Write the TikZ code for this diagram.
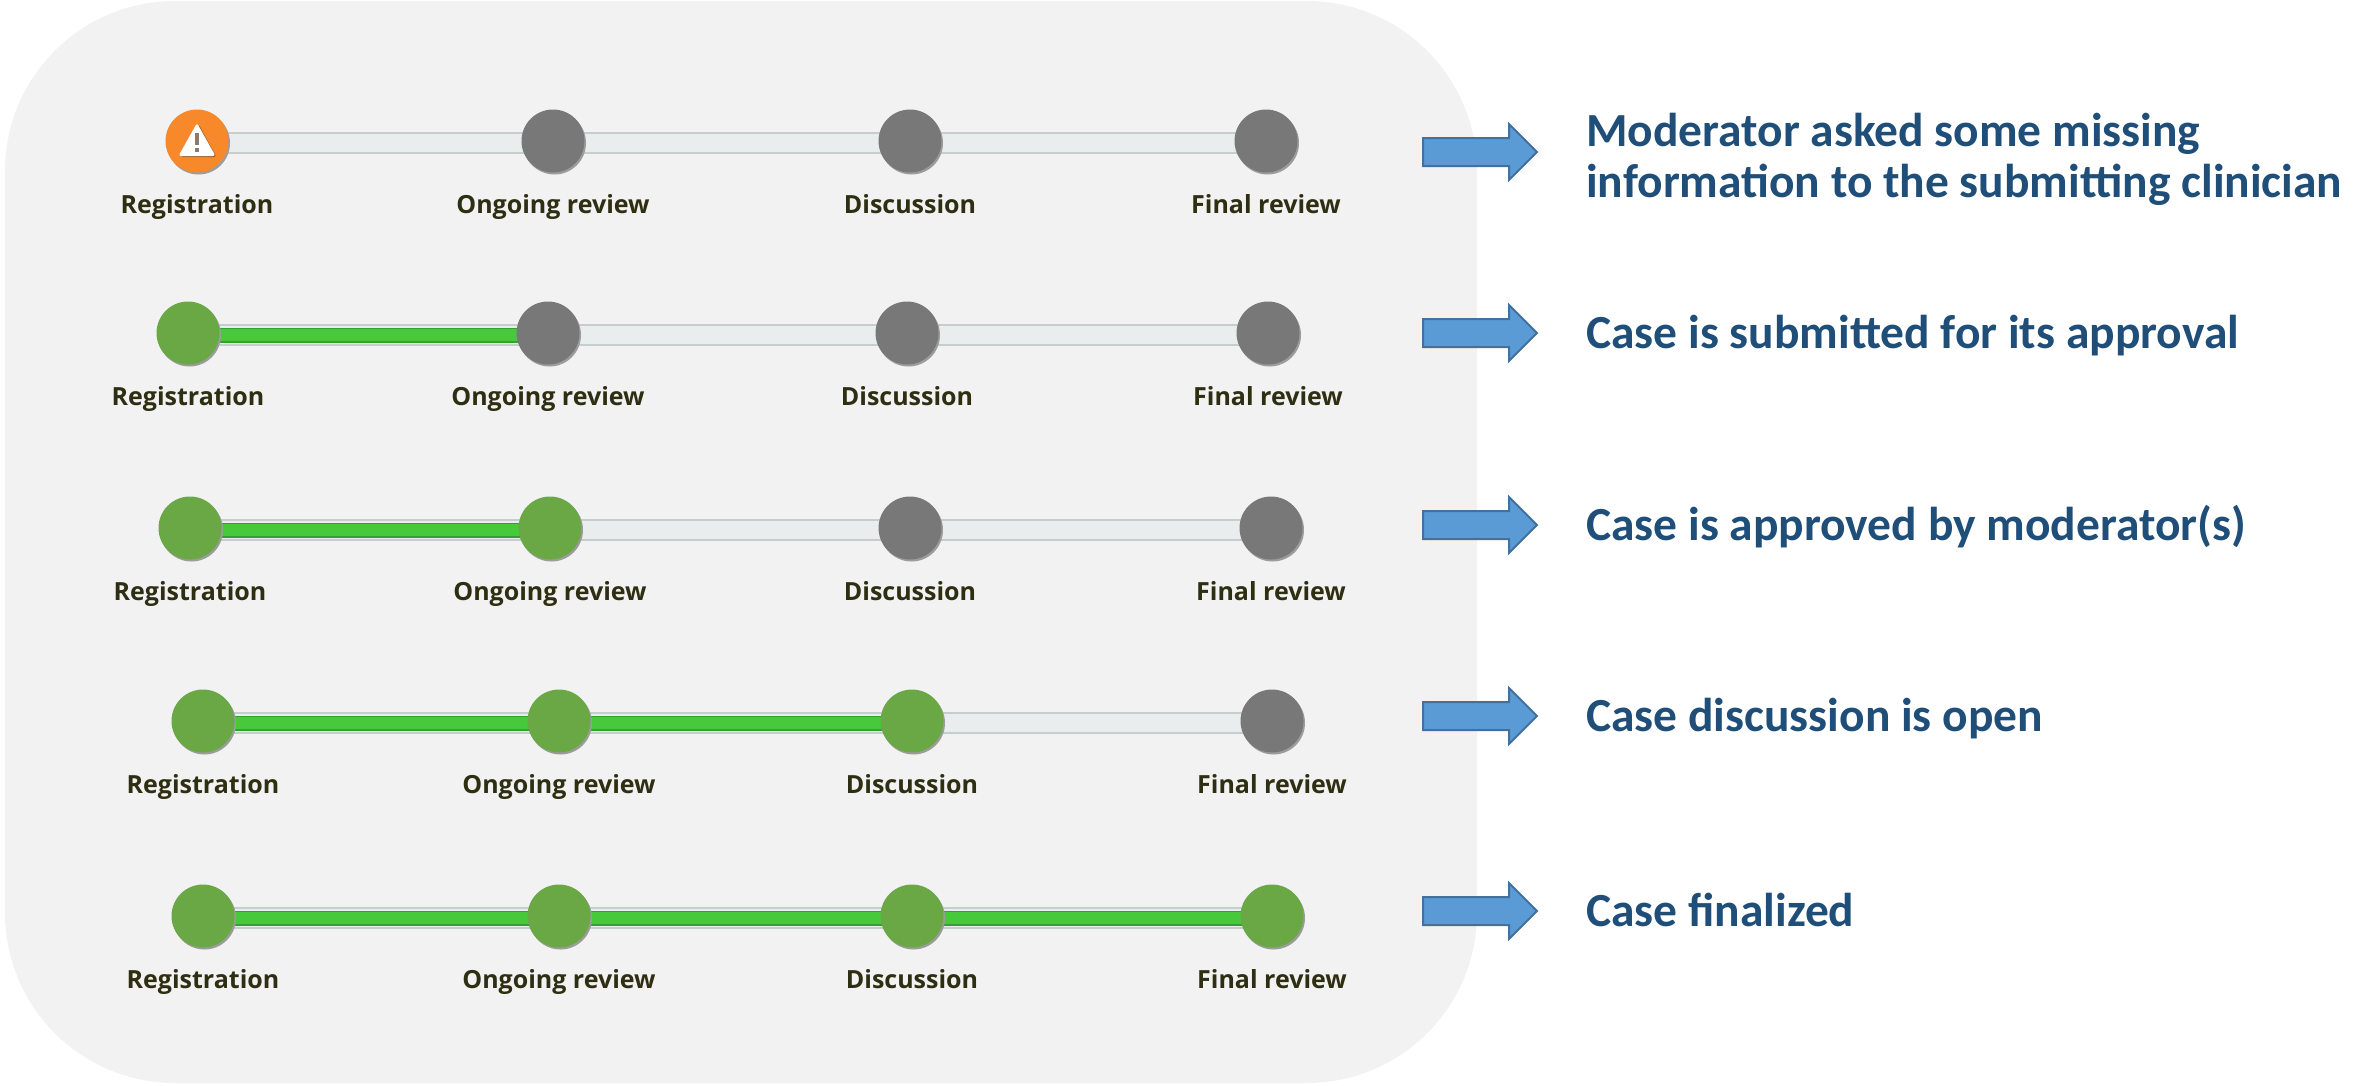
\documentclass[tikz,border=0pt]{standalone}
\usepackage{fontspec}
\setmainfont{Carlito}
\newfontfamily\lblfont{Open Sans}
\usetikzlibrary{shapes.arrows,shadows}
\pgfdeclarelayer{back}
\pgfdeclarelayer{mid}
\pgfsetlayers{back,mid,main}
\definecolor{panel}{HTML}{F2F2F2}
\definecolor{stgreen}{HTML}{6AA846}
\definecolor{stgray}{HTML}{787878}
\definecolor{storange}{HTML}{F7892B}
\definecolor{stshadow}{HTML}{9C9C9C}
\definecolor{trkedge}{HTML}{C6CDCD}
\definecolor{trkfill}{HTML}{EAEDED}
\definecolor{grnedge}{HTML}{33A033}
\definecolor{grnfill}{HTML}{48C83B}
\definecolor{lbltext}{HTML}{2E2E12}
\definecolor{arrowfill}{HTML}{5B9BD5}
\definecolor{arrowedge}{HTML}{41719C}
\definecolor{desctext}{HTML}{1F4E79}
\definecolor{exclam}{HTML}{8C7B6B}
\tikzset{
  stage/.style={circle, minimum size=63pt, inner sep=0pt, draw=none,
    drop shadow={fill=stshadow, opacity=1, shadow xshift=1.5pt, shadow yshift=-2pt}},
  done/.style={stage, fill=stgreen},
  todo/.style={stage, fill=stgray},
  warn/.style={stage, fill=storange},
  lbl/.style={anchor=base, inner sep=0pt, text=lbltext,
    font=\lblfont\bfseries\fontsize{25}{30}\selectfont},
  trackgray/.style={line width=2pt, draw=trkedge, double=trkfill, double distance=18pt},
  trackgreen/.style={line width=1.5pt, draw=grnedge, double=grnfill, double distance=12pt},
  blockarrow/.style={single arrow, draw=arrowedge, line width=2pt, fill=arrowfill,
    minimum height=114pt, inner xsep=0pt, inner ysep=13pt,
    single arrow head extend=14pt, single arrow tip angle=90},
  desc/.style={anchor=base west, inner sep=0pt, text=desctext, align=left,
    font=\bfseries\fontsize{47.5}{51}\selectfont}
}
\begin{document}
\begin{tikzpicture}[x=1pt,y=-1pt]
\useasboundingbox (0,0) rectangle (2354,1085);
\begin{pgfonlayer}{back}
  \fill[panel, rounded corners=170pt] (5,1) rectangle (1477,1083);
\end{pgfonlayer}

% ---------- Row 1 ----------
\node[warn] (r1a) at (197,141) {};
\node[todo] (r1b) at (553,141) {};
\node[todo] (r1c) at (910,141) {};
\node[todo] (r1d) at (1266,141) {};
\fill[black!35!storange, rounded corners=2.5pt] (180.5,157) -- (198.5,124) -- (216.5,157) -- cycle;
\fill[white, rounded corners=2.5pt] (178.5,156) -- (197,123) -- (215.5,156) -- cycle;
\fill[exclam] (195.3,133) rectangle (198.7,144.5);
\fill[exclam] (195.3,147.5) rectangle (198.7,151.5);
\node[lbl] (r1la) at (197,213) {Registration};
\node[lbl] (r1lb) at (553,213) {Ongoing review};
\node[lbl] (r1lc) at (910,213) {Discussion};
\node[lbl] (r1ld) at (1266,213) {Final review};

% ---------- Row 2 ----------
\node[done] (r2a) at (188,333) {};
\node[todo] (r2b) at (548,333) {};
\node[todo] (r2c) at (907,333) {};
\node[todo] (r2d) at (1268,333) {};
\node[lbl] (r2la) at (188,405) {Registration};
\node[lbl] (r2lb) at (548,405) {Ongoing review};
\node[lbl] (r2lc) at (907,405) {Discussion};
\node[lbl] (r2ld) at (1268,405) {Final review};

% ---------- Row 3 ----------
\node[done] (r3a) at (190,528) {};
\node[done] (r3b) at (550,528) {};
\node[todo] (r3c) at (910,528) {};
\node[todo] (r3d) at (1271,528) {};
\node[lbl] (r3la) at (190,600) {Registration};
\node[lbl] (r3lb) at (550,600) {Ongoing review};
\node[lbl] (r3lc) at (910,600) {Discussion};
\node[lbl] (r3ld) at (1271,600) {Final review};

% ---------- Row 4 ----------
\node[done] (r4a) at (203,721) {};
\node[done] (r4b) at (559,721) {};
\node[done] (r4c) at (912,721) {};
\node[todo] (r4d) at (1272,721) {};
\node[lbl] (r4la) at (203,793) {Registration};
\node[lbl] (r4lb) at (559,793) {Ongoing review};
\node[lbl] (r4lc) at (912,793) {Discussion};
\node[lbl] (r4ld) at (1272,793) {Final review};

% ---------- Row 5 ----------
\node[done] (r5a) at (203,916) {};
\node[done] (r5b) at (559,916) {};
\node[done] (r5c) at (912,916) {};
\node[done] (r5d) at (1272,916) {};
\node[lbl] (r5la) at (203,988) {Registration};
\node[lbl] (r5lb) at (559,988) {Ongoing review};
\node[lbl] (r5lc) at (912,988) {Discussion};
\node[lbl] (r5ld) at (1272,988) {Final review};

% ---------- Tracks ----------
\begin{pgfonlayer}{mid}
  \foreach \r in {1,...,5} {
    \draw[trackgray] ([yshift=-2pt]r\r a.center) -- ([yshift=-2pt]r\r d.center);
  }
  \draw[trackgreen] ([yshift=-2pt]r2a.center) -- ([yshift=-2pt]r2b.center);
  \draw[trackgreen] ([yshift=-2pt]r3a.center) -- ([yshift=-2pt]r3b.center);
  \draw[trackgreen] ([yshift=-2pt]r4a.center) -- ([yshift=-2pt]r4c.center);
  \draw[trackgreen] ([yshift=-2pt]r5a.center) -- ([yshift=-2pt]r5d.center);
\end{pgfonlayer}

% ---------- Arrows and descriptions ----------
\node[blockarrow] (ar1) at (1473,152) {};
\node[blockarrow] (ar2) at (1473,333) {};
\node[blockarrow] (ar3) at (1473,525) {};
\node[blockarrow] (ar4) at (1473,716) {};
\node[blockarrow] (ar5) at (1473,911) {};
\node[desc] (d1) at (1586,197) {Moderator asked some missing\\information to the submitting clinician};
\node[desc] (d2) at (1586,348) {Case is submitted for its approval};
\node[desc] (d3) at (1586,540) {Case is approved by moderator(s)};
\node[desc] (d4) at (1586,731) {Case discussion is open};
\node[desc] (d5) at (1586,926) {Case finalized};
\end{tikzpicture}
\end{document}
